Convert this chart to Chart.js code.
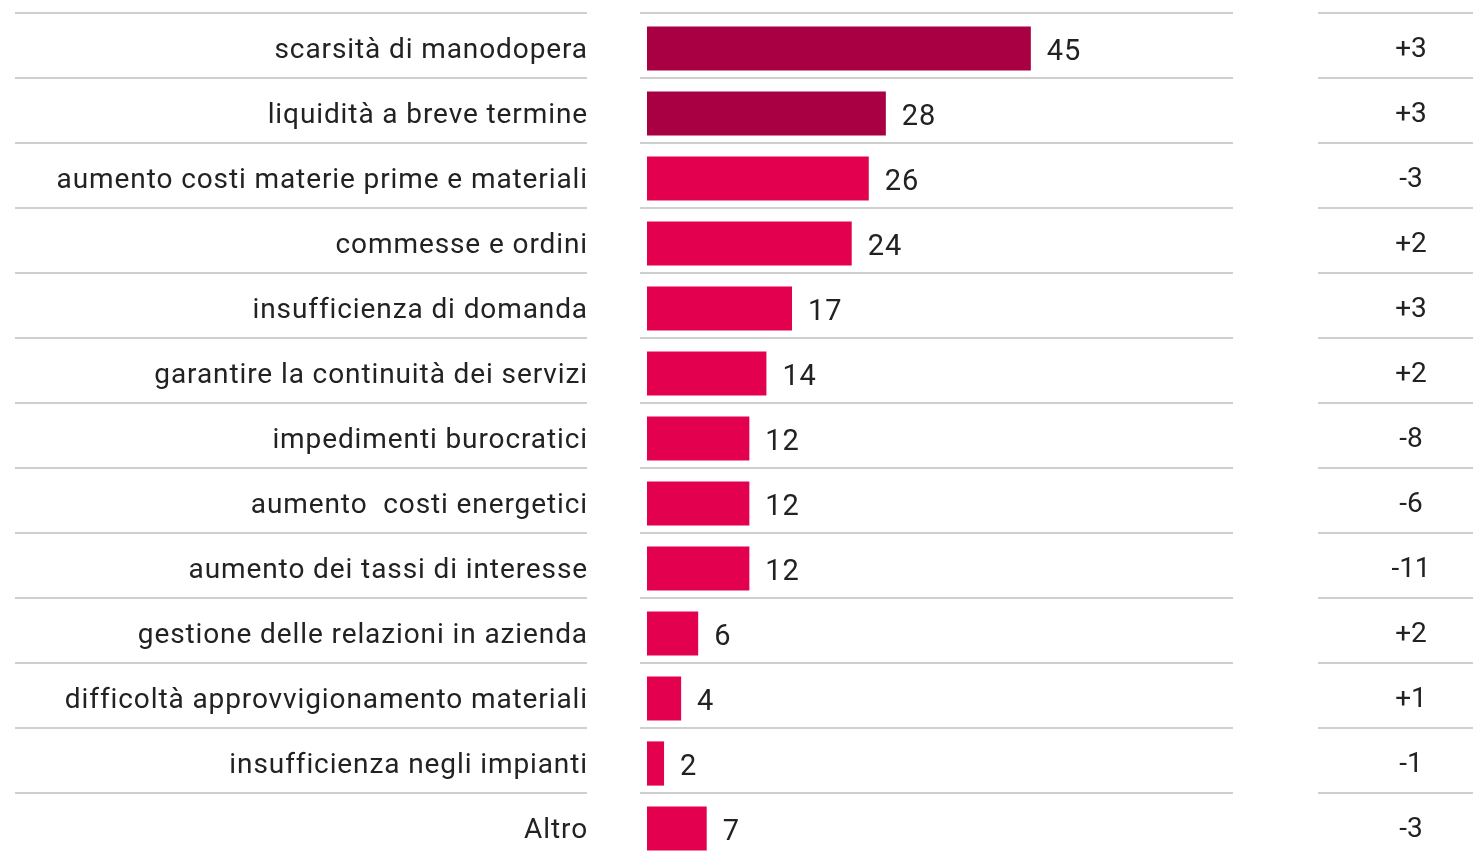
<!DOCTYPE html>
<html>
<head>
<meta charset="utf-8">
<script src="https://cdn.jsdelivr.net/npm/chart.js@4/dist/chart.umd.min.js"></script>
<style>
  html, body { margin: 0; padding: 0; background: #fff; overflow: hidden; }
  canvas { display: block; }
</style>
</head>
<body>
<canvas id="chart" width="1473" height="870"></canvas>
<script>
const categories = [
  "scarsità di manodopera",
  "liquidità a breve termine",
  "aumento costi materie prime e materiali",
  "commesse e ordini",
  "insufficienza di domanda",
  "garantire la continuità dei servizi",
  "impedimenti burocratici",
  "aumento  costi energetici",
  "aumento dei tassi di interesse",
  "gestione delle relazioni in azienda",
  "difficoltà approvvigionamento materiali",
  "insufficienza negli impianti",
  "Altro"
];
const values = [45, 28, 26, 24, 17, 14, 12, 12, 12, 6, 4, 2, 7];
const changes = ["+3", "+3", "-3", "+2", "+3", "+2", "-8", "-6", "-11", "+2", "+1", "-1", "-3"];

const font = "Roboto, 'Noto Sans', sans-serif";
const textColor = "#222";
const lineColor = "#cfcfcf";

const tablePlugin = {
  id: "table",
  afterDatasetsDraw(chart) {
    const ctx = chart.ctx;
    const y = chart.scales.y;
    const meta = chart.getDatasetMeta(0);
    const half = (y.getPixelForValue(1) - y.getPixelForValue(0)) / 2;
    ctx.save();
    categories.forEach((cat, i) => {
      const cy = y.getPixelForValue(i);
      const top = Math.round(cy - half - 3);
      // separators, in three separate columns
      ctx.strokeStyle = lineColor;
      ctx.lineWidth = 2;
      ctx.beginPath();
      ctx.moveTo(15, top); ctx.lineTo(587, top);
      ctx.moveTo(640, top); ctx.lineTo(1233, top);
      ctx.moveTo(1318, top); ctx.lineTo(1473, top);
      ctx.stroke();

      ctx.fillStyle = textColor;
      ctx.textBaseline = "middle";
      ctx.letterSpacing = "0.9px";
      ctx.font = "28px " + font;
      ctx.textAlign = "right";
      ctx.fillText(cat, 588, cy + 2);

      const bar = meta.data[i];
      ctx.font = "29px " + font;
      ctx.textAlign = "left";
      ctx.fillText(String(values[i]), bar.x + 16, cy + 4);

      ctx.font = "28px " + font;
      ctx.letterSpacing = "0px";
      ctx.textAlign = "center";
      ctx.fillText(changes[i], 1411, cy + 1);
    });
    ctx.restore();
  }
};

new Chart(document.getElementById("chart"), {
  type: "bar",
  data: {
    labels: categories,
    datasets: [{
      data: values,
      backgroundColor: (c) => c.dataIndex < 2 ? "#a80043" : "#e3004f",
      borderWidth: 0,
      barPercentage: 0.68,
      categoryPercentage: 1
    }]
  },
  options: {
    indexAxis: "y",
    responsive: false,
    animation: false,
    devicePixelRatio: 1,
    layout: { padding: { left: 647, right: 240, top: 16, bottom: 9 } },
    scales: {
      x: { display: false, min: 0, max: 68.7 },
      y: { display: false }
    },
    plugins: {
      legend: { display: false },
      tooltip: { enabled: false }
    }
  },
  plugins: [tablePlugin]
});
</script>
</body>
</html>
